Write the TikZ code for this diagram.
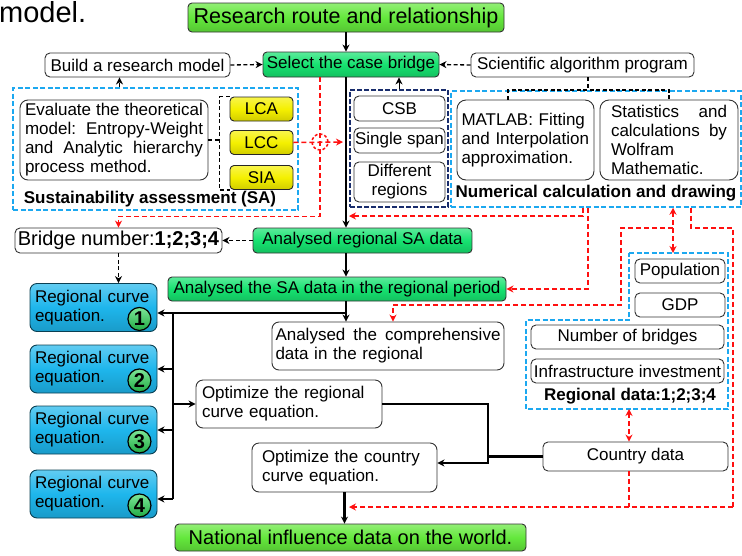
\documentclass[tikz,border=0pt]{standalone}
\usepackage{fontspec}
\setmainfont{Liberation Sans}
\usetikzlibrary{arrows.meta,positioning}

\definecolor{titlegreen}{RGB}{100,232,60}
\definecolor{stepgreen}{RGB}{22,226,112}
\definecolor{boxyellow}{RGB}{245,240,0}
\definecolor{eqblue}{RGB}{30,182,236}
\definecolor{numgreen}{RGB}{40,214,84}
\definecolor{framecyan}{RGB}{28,168,240}
\definecolor{framenavy}{RGB}{24,44,108}
\definecolor{routered}{RGB}{255,16,16}

% one line stretched to a given width (spaces made stretchable again)
\newcommand{\spread}[2]{{\spaceskip=0pt\xspaceskip=0pt\makebox[#1][s]{#2}}}

\tikzset{
  plain/.style={draw=black!80, fill=white, rounded corners=5pt, inner sep=0pt, line width=0.9pt},
  shadebox/.style={draw=black!80, rounded corners=4pt, inner sep=0pt, line width=0.9pt,
    top color=#1!70!white, bottom color=#1!85!black, middle color=#1},
  eqbox/.style={shadebox=eqblue, draw=eqblue!35!black, rounded corners=7pt,
    minimum width=127, minimum height=48, text width=117, align=left},
  numdot/.style={circle, draw=black, line width=1.2pt, inner sep=0pt, minimum size=23,
    top color=numgreen!60!white, bottom color=numgreen!80!black,
    font=\fontsize{20}{20}\selectfont\bfseries},
  boldlabel/.style={inner sep=0pt, font=\fontsize{17}{19}\selectfont\bfseries},
  cyanframe/.style={draw=framecyan, dash pattern=on 5pt off 2.5pt, line width=1.5pt},
  navyframe/.style={draw=framenavy, dash pattern=on 5pt off 2pt, line width=1.8pt},
  blackdash/.style={draw=black, dash pattern=on 4pt off 2.5pt, line width=1.3pt},
  reddash/.style={draw=routered, dash pattern=on 5pt off 3pt, line width=1.5pt},
  trunk/.style={draw=black, line width=2.8pt},
  busline/.style={draw=black, line width=2.2pt},
}

\begin{document}
\begin{tikzpicture}[x=1pt, y=-1pt, >={Stealth[length=7pt,width=7pt]},
  every node/.append style={font=\fontsize{17}{19}\selectfont}]
\useasboundingbox (0,0) rectangle (742,555);

% end of the sentence above the figure
\node[anchor=base west, inner sep=0pt, font=\fontsize{29}{30}\selectfont] (prev) at (-1,22) {model.};

% top row
\node[shadebox=titlegreen, minimum width=316, minimum height=29,
  font=\fontsize{21.5}{24}\selectfont] (title) at (346,17.5) {Research route and relationship};
\node[plain, minimum width=185, minimum height=24] (build) at (137.5,65) {Build a research model};
\node[shadebox=stepgreen, minimum width=176, minimum height=25] (select) at (351,64.5) {Select the case bridge};
\node[plain, minimum width=223, minimum height=24] (algo) at (582.5,65) {Scientific algorithm program};

% sustainability assessment
\node[cyanframe, minimum width=285, minimum height=122] (sabox) at (155.5,149) {};
\node[plain, rounded corners=8pt, minimum width=188, minimum height=80, text width=178, align=left] (evalm) at (114,140)
  {\spread{178pt}{Evaluate the theoretical}\\\spread{178pt}{model: Entropy-Weight}\\\spread{178pt}{and Analytic hierarchy}\\process method.};
\foreach \n/\lbl/\y in {lca/LCA/109, lcc/LCC/142.5, sia/SIA/177.5}
  \node[shadebox=boxyellow, draw=black!85, minimum width=63, minimum height=24] (\n) at (261.5,\y) {\lbl};
\node[boldlabel] (salabel) at (150,199.5) {Sustainability assessment (SA)};
\node[draw=routered, dash pattern=on 3pt off 2pt, line width=1.5pt, circle, minimum size=16, inner sep=0pt] (hub) at (320,142) {};

% case bridge features
\node[navyframe, minimum width=98, minimum height=117] (bridgefrm) at (399,148.5) {};
\node[plain, minimum width=91, minimum height=25] (csb) at (399.5,108.5) {CSB};
\node[plain, minimum width=91, minimum height=25] (span) at (399.5,140.5) {Single span};
\node[plain, minimum width=91, minimum height=40, align=center] (regions) at (399.5,182) {Different\\regions};

% numerical tools
\node[cyanframe, minimum width=290, minimum height=116] (numfrm) at (596,149) {};
\node[plain, rounded corners=9pt, minimum width=137, minimum height=80, text width=128, align=left] (matlab) at (525.5,140)
  {MATLAB: Fitting\\and Interpolation\\approximation.};
\node[plain, rounded corners=9pt, minimum width=138, minimum height=80, text width=116, align=left] (stats) at (669,140)
  {\spread{116pt}{Statistics and}\\\spread{116pt}{calculations by}\\Wolfram\\Mathematic.};
\node[boldlabel] (numlabel) at (596,193) {Numerical calculation and drawing};

% analysis chain
\node[plain, minimum width=207, minimum height=25, font=\fontsize{20}{22}\selectfont] (bridgeno) at (118.5,240.5) {Bridge number:\textbf{1;2;3;4}};
\node[shadebox=stepgreen, minimum width=219, minimum height=25] (regsa) at (362.5,240.5) {Analysed regional SA data};
\node[shadebox=stepgreen, minimum width=338, minimum height=24] (period) at (337,289) {Analysed the SA data in the regional period};
\node[plain, rounded corners=7pt, minimum width=232, minimum height=48, text width=225, align=left] (compre) at (388,346)
  {\spread{225pt}{Analysed the comprehensive}\\data in the regional};

% regional curve equations
\foreach \i/\y in {1/307.5, 2/369, 3/430, 4/494}{
  \node[eqbox] (rc\i) at (93.5,\y) {Regional curve\\equation.};
  \node[numdot] (n\i) at ([xshift=-18pt,yshift=13pt]rc\i.south east) {\i};
}
\node[plain, rounded corners=7pt, minimum width=186, minimum height=48, text width=174, align=left] (optreg) at (289,404)
  {Optimize the regional\\curve equation.};
\node[plain, rounded corners=7pt, minimum width=185, minimum height=49, text width=165, align=left] (optcty) at (344.5,467.5)
  {Optimize the country\\curve equation.};
\node[shadebox=titlegreen, minimum width=351, minimum height=27,
  font=\fontsize{20}{22}\selectfont] (national) at (350.5,537.5) {National influence data on the world.};

% regional data
\coordinate (rftop) at (673,253);
\coordinate (rfbot) at (629,409);
\draw[cyanframe] (629,253) -- (728,253) -- (728,409) -- (526,409) -- (526,320) -- (629,320) -- cycle;
\node[plain, minimum width=90, minimum height=24] (pop) at (680,271) {Population};
\node[plain, minimum width=90, minimum height=24] (gdp) at (680,305) {GDP};
\node[plain, minimum width=193, minimum height=24] (nbridges) at (627.5,337) {Number of bridges};
\node[plain, minimum width=193, minimum height=24] (invest) at (627.5,371) {Infrastructure investment};
\node[boldlabel] (regdata) at (630,396) {Regional data:1;2;3;4};
\node[plain, minimum width=185, minimum height=29] (country) at (635.5,456.5) {Country data};

% main route
\draw[trunk,->] (title.south) -- (title.south |- select.north);
\draw[trunk,->] (title.south |- select.south) -- (title.south |- regsa.north);
\draw[trunk,->] (title.south |- regsa.south) -- (title.south |- period.north);
\draw[trunk,->] (title.south |- period.south) -- (title.south |- compre.north);
\coordinate (fork) at (346,313);
\coordinate (bus) at (173,313);
\coordinate (busend) at (173,499);
\draw[busline,->] (fork) -- (fork -| rc1.east);
\draw[busline] (bus) -- (busend);
\draw[busline,->] (busend) -- (busend -| rc4.east);
\foreach \k in {2,3}
  \draw[busline,->] (bus |- rc\k.east) -- (rc\k.east);
\draw[busline,->] (bus |- optreg.west) -- (optreg.west);
\coordinate (merge) at (488,463);
\draw[busline,->] (optreg.east) -| (merge) -- (merge -| optcty.east);
\draw[busline] (country.west) -- (country.west -| merge);
\draw[trunk,->] (optcty.south) -- (optcty.south |- national.north);

% black dashed links
\draw[blackdash,->] (build.east) -- (select.west);
\draw[blackdash,->] (algo.west) -- (select.east);
\draw[blackdash,->] ([xshift=-18pt]build.south |- sabox.north) -- ([xshift=-18pt]build.south);
\draw[line width=1pt,->] (bridgefrm.north) -- (bridgefrm.north |- select.south);
\draw[blackdash,->] (regsa.west) -- (bridgeno.east);
\draw[blackdash,->] (bridgeno.south) -- (bridgeno.south |- rc1.north);
\draw[blackdash] (lca.north west) -- ++(-10,0) |- (sia.south west);
\draw[blackdash] (evalm.east) -- ++(12,0);
\draw[blackdash, line width=2pt] ([xshift=-17.5pt]matlab.north) |- (stats.north |- numfrm.north) -- (stats.north);
\draw[blackdash, line width=2pt] ([xshift=5.5pt]algo.south) -- ([xshift=5.5pt]algo.south |- numfrm.north);

% red dashed links
\coordinate (redin1) at (349,216);
\coordinate (redin2) at (349,507);
\coordinate (rtop) at (733,228);
\coordinate (rbot) at (733,507);
\coordinate (tap) at (673,228);
\draw[reddash,->] (lcc.east) -- ([xshift=-3pt]title.south |- hub.center);
\draw[reddash,->] (hub |- select.south) -- ++(0,139) -| (bridgeno.north);
\draw[reddash,->] ([xshift=-13pt]numfrm.south) |- (redin1);
\draw[reddash,->] ([xshift=-8pt]numfrm.south) |- (period.east);
\draw[reddash,<->] ([xshift=77pt]numfrm.south) -- (rftop);
\draw[reddash,->] (tap) -| ++(-52,77) -| ([xshift=5pt]compre.north);
\draw[reddash] ([xshift=95pt]numfrm.south) |- (rtop) -- (rbot);
\draw[reddash,->] (rbot) -- (redin2);
\draw[reddash] (rfbot |- country.south) -- (rfbot |- rbot);
\draw[reddash,<->] (rfbot) -- (rfbot |- country.north);

\end{tikzpicture}
\end{document}
